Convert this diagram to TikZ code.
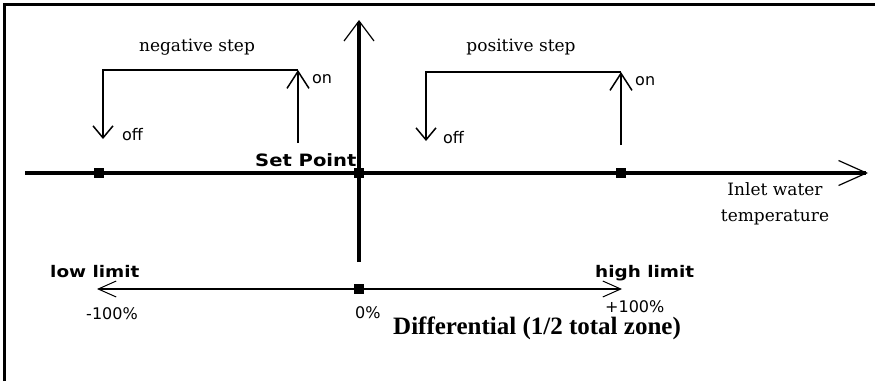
\documentclass[tikz,border=0pt]{standalone}
\usepackage{fontspec}
\usepackage{graphicx}
\setmainfont{DejaVu Serif}
\newfontfamily\sansf{DejaVu Sans}
\newfontfamily\timesf{Liberation Serif}
\usetikzlibrary{arrows.meta}
\begin{document}
\begin{tikzpicture}[x=1pt,y=-1pt,
  lbl/.style={inner sep=0pt, anchor=base},
  ser/.style={lbl, font=\fontsize{17}{20}\selectfont},
  sml/.style={lbl, font=\sansf\fontsize{16}{19}\selectfont},
  bsans/.style={lbl, font=\sansf\bfseries\fontsize{16}{19}\selectfont},
  sqmark/.style={rectangle, fill=black, draw=none, minimum size=10pt, inner sep=0pt},
  axisline/.style={line width=3.5pt},
  stepline/.style={line width=1.5pt},
  downtip/.style={-{Straight Barb[length=12pt,width=20pt]}},
  uptip/.style={-{Straight Barb[length=17pt,width=22pt]}}
]
\useasboundingbox (0,0) rectangle (875,381);
\fill[white] (0,0) rectangle (875,381);
% frame
\draw[line width=3pt] (4,381) -- (4,4) -- (875,4);

% coordinates
\coordinate (hS) at (25,173);
\coordinate (hE) at (868,173);
\coordinate (vS) at (359,262);
\coordinate (vE) at (359,20);
\coordinate (bL) at (97,289);
\coordinate (bR) at (622,289);
\coordinate (nA) at (103,139);
\coordinate (nB) at (103,70);
\coordinate (nC) at (298,70);
\coordinate (nD) at (298,143);
\coordinate (pA) at (426,141);
\coordinate (pB) at (426,72);
\coordinate (pC) at (621,72);
\coordinate (pD) at (621,145);

% axes
\draw[axisline, -{Straight Barb[length=28pt,width=25pt,line width=1.2pt]}] (hS) -- (hE);
\draw[axisline, -{Straight Barb[length=20pt,width=30pt,line width=1.2pt]}] (vS) -- (vE);
\draw[line width=1.3pt, {Straight Barb[length=18pt,width=16pt,line width=1pt]}-{Straight Barb[length=18pt,width=16pt,line width=1pt]}] (bL) -- (bR);

% steps
\draw[stepline, downtip] (nC) -- (nB) -- (nA);
\draw[stepline, uptip] (nD) -- (nC);
\draw[stepline, downtip] (pC) -- (pB) -- (pA);
\draw[stepline, uptip] (pD) -- (pC);

% markers
\node[sqmark] (mL) at (99,173) {};
\node[sqmark] (m0) at (359,173) {};
\node[sqmark] (mR) at (621,173) {};
\node[sqmark] (mB) at (359,289) {};

% labels
\node[ser] (negstep) at (197,51) {negative step};
\node[ser] (posstep) at (521,51) {positive step};
\node[sml, anchor=base west] (on1) at (312,83) {on};
\node[sml, anchor=base west] (off1) at (122,140) {off};
\node[sml, anchor=base west] (on2) at (635,85) {on};
\node[sml, anchor=base west] (off2) at (443,143) {off};
\node[bsans, anchor=base west, font=\sansf\bfseries\fontsize{17}{20}\selectfont] (sp) at (255,166) {\scalebox{1.15}[1]{Set Point}};
\node[ser] (inlet1) at (775,195) {Inlet water};
\node[ser] (inlet2) at (775,221) {temperature};
\node[bsans, anchor=base west] (low) at (50,277) {\scalebox{1.15}[1]{low limit}};
\node[bsans, anchor=base west] (high) at (595,277) {\scalebox{1.15}[1]{high limit}};
\node[sml] (m100) at (112,319) {-100\%};
\node[sml, anchor=base west] (p0) at (355,318) {0\%};
\node[sml, anchor=base west] (p100) at (605,312) {+100\%};
\node[lbl, anchor=base west, font=\timesf\bfseries\fontsize{25}{28}\selectfont] (diff) at (393,334) {Differential (1/2 total zone)};
\end{tikzpicture}
\end{document}
